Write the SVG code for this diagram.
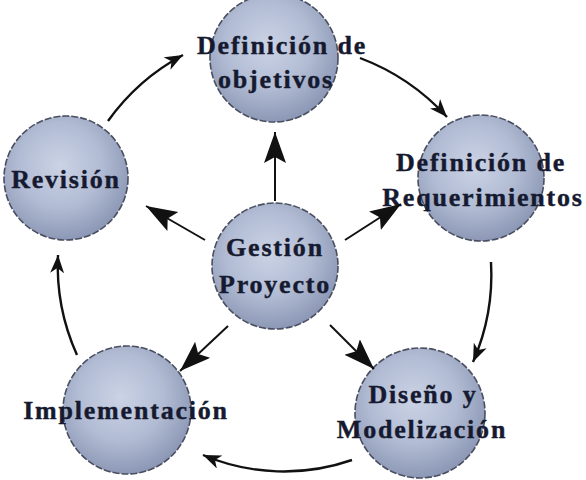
<svg xmlns="http://www.w3.org/2000/svg" width="586" height="480" viewBox="0 0 586 480">
  <style>
    .ball { fill: url(#ballGrad); stroke: #4a4f60; stroke-width: 1.6; stroke-dasharray: 7 2; }
    .lbl { font-family: "Liberation Serif", "Times New Roman", serif; font-weight: bold; font-size: 26px; fill: #161a30; stroke: #161a30; stroke-width: 0.4; text-anchor: middle; letter-spacing: 1.8px; }
    .cyc { fill: none; stroke: #111; stroke-width: 2.4; marker-end: url(#headS); }
    .rad { fill: none; stroke: #111; stroke-width: 2; marker-end: url(#headL); }
  </style>
  <defs>
    <radialGradient id="ballGrad" cx="0.45" cy="0.4" r="0.62">
      <stop offset="0" stop-color="#cbd3e5"/>
      <stop offset="0.55" stop-color="#b1bbd3"/>
      <stop offset="1" stop-color="#8995b3"/>
    </radialGradient>
    <marker id="headS" markerUnits="userSpaceOnUse" markerWidth="20" markerHeight="14" refX="18" refY="7" orient="auto">
      <path d="M0,0 L18,7 L0,14 L5,7 z" fill="#111"/>
    </marker>
    <marker id="headL" markerUnits="userSpaceOnUse" markerWidth="32" markerHeight="24" refX="31" refY="11" orient="auto">
      <path d="M0,0 L31,11 L0,22 L6,11 z" fill="#111"/>
    </marker>
  </defs>
  <rect width="586" height="480" fill="#ffffff"/>

  <g id="node-objetivos">
    <circle class="ball" cx="274" cy="58" r="64"/>
    <text class="lbl" x="282" y="54">Definición de</text>
    <text class="lbl" x="276" y="88">objetivos</text>
  </g>
  <g id="node-revision">
    <circle class="ball" cx="66" cy="178" r="62"/>
    <text class="lbl" x="66" y="188">Revisión</text>
  </g>
  <g id="node-requerimientos">
    <circle class="ball" cx="481" cy="178" r="63"/>
    <text class="lbl" x="481" y="171">Definición de</text>
    <text class="lbl" x="483" y="206">Requerimientos</text>
  </g>
  <g id="node-gestion">
    <circle class="ball" cx="275" cy="266" r="63"/>
    <text class="lbl" x="275" y="256">Gestión</text>
    <text class="lbl" x="275" y="293">Proyecto</text>
  </g>
  <g id="node-implementacion">
    <circle class="ball" cx="127" cy="410" r="64"/>
    <text class="lbl" x="126" y="419">Implementación</text>
  </g>
  <g id="node-diseno">
    <circle class="ball" cx="420" cy="413" r="65"/>
    <text class="lbl" x="423" y="403">Diseño y</text>
    <text class="lbl" x="422" y="438">Modelización</text>
  </g>

  <g id="connectors">
    <path class="cyc" d="M108,121 A220,220 0 0 1 183,55"/>
    <path class="cyc" d="M360,58 A225,225 0 0 1 447,117"/>
    <path class="cyc" d="M491,262 A218,218 0 0 1 473,362"/>
    <path class="cyc" d="M352,460 A207,207 0 0 1 203,455"/>
    <path class="cyc" d="M77,355 A217,217 0 0 1 58,255"/>
    <path class="rad" d="M275,201 L275,132"/>
    <path class="rad" d="M205,240 L146,206"/>
    <path class="rad" d="M345,240 L401,204"/>
    <path class="rad" d="M228,326 L180,371"/>
    <path class="rad" d="M330,325 L374,369"/>
  </g>
</svg>
